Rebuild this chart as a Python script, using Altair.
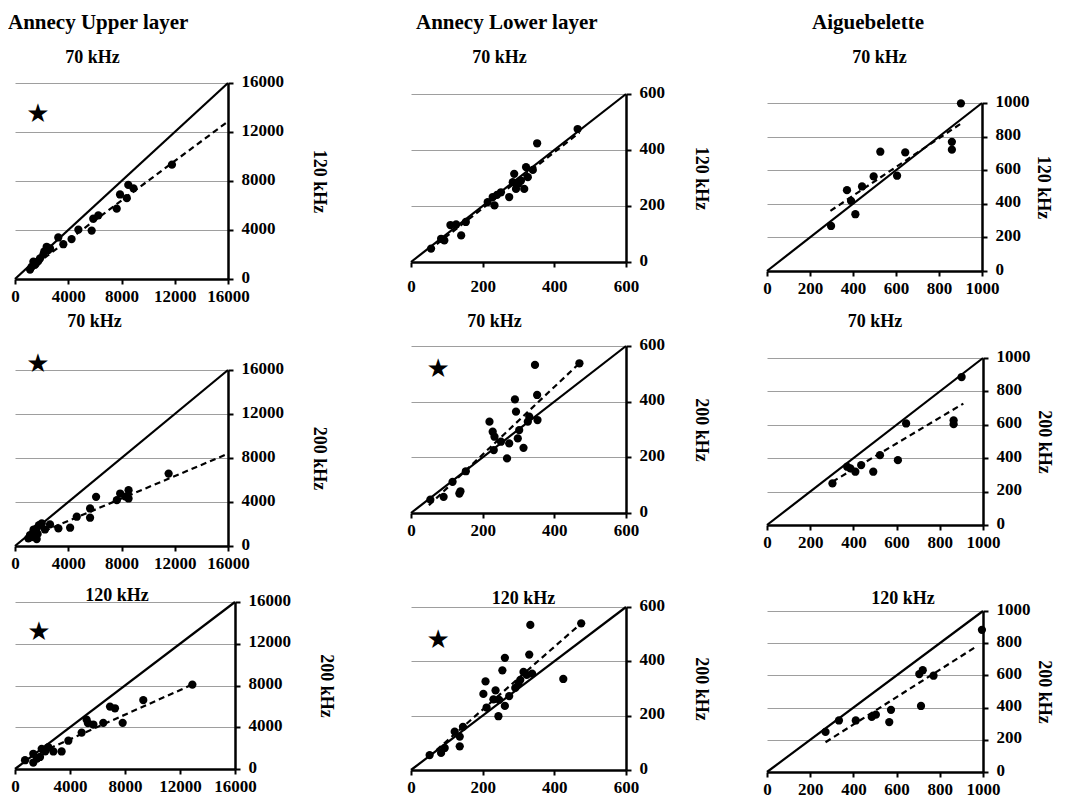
import altair as alt
import pandas as pd

FONT = "Liberation Serif"

# ---------------- Annecy Upper layer ----------------
up_70_120_x = [11790, 8510, 8900, 7890, 8400, 7640, 6260, 5880, 5760, 4760, 4250, 3250, 3630,
               2630, 2500, 2380, 2130, 2200, 1880, 1750, 1600, 1380, 1130, 1250, 1500]
up_70_120_y = [9330, 7680, 7400, 6900, 6600, 5740, 5200, 4920, 3950, 4030, 3260, 3390, 2840,
               2500, 2370, 2630, 2010, 2250, 1680, 1460, 1300, 1410, 770, 1000, 1150]
up_70_120_trend_x = [1000, 16000]
up_70_120_trend_y = [750, 12860]

up_70_200_x = [11540, 8530, 7900, 8300, 7650, 8530, 6090, 5640, 5640, 4640, 4140, 3260,
               2630, 2010, 1630, 1380, 1130, 1630, 1000, 1250, 2250, 1800, 1400, 1700]
up_70_200_y = [6580, 5070, 4770, 4500, 4170, 4320, 4470, 3410, 2570, 2660, 1660, 1600,
               1960, 2050, 1600, 1300, 1000, 630, 700, 800, 1500, 1900, 1500, 1100]
up_70_200_trend_x = [800, 16000]
up_70_200_trend_y = [650, 8390]

up_120_200_x = [12900, 9330, 7270, 6910, 7830, 6420, 5700, 5210, 5300, 4850, 3880, 3390,
                2790, 2420, 1940, 1820, 1330, 730, 1330, 2200, 1600]
up_120_200_y = [8090, 6600, 5820, 5980, 4420, 4420, 4260, 4730, 4400, 3490, 2710, 1680,
                1680, 2090, 1930, 1150, 1460, 840, 620, 1700, 1000]
up_120_200_trend_x = [500, 12900]
up_120_200_trend_y = [790, 8090]

# ---------------- Annecy Lower layer ----------------
lo_70_120_x = [465, 352, 340, 321, 326, 288, 307, 293, 316, 274, 284, 251, 228, 233, 214,
               126, 153, 140, 84, 93, 56, 240, 300, 110]
lo_70_120_y = [475, 424, 329, 339, 303, 315, 291, 261, 261, 232, 285, 249, 232, 202, 214,
               134, 143, 95, 83, 77, 48, 240, 280, 132]
lo_70_120_trend_x = [50, 470]
lo_70_120_trend_y = [42, 462]

lo_70_200_x = [470, 346, 352, 290, 293, 330, 353, 326, 219, 228, 233, 302, 298, 251, 274,
               314, 231, 268, 153, 116, 138, 135, 91, 54]
lo_70_200_y = [538, 532, 424, 408, 364, 346, 334, 328, 328, 292, 274, 298, 268, 256, 250,
               234, 226, 196, 150, 112, 78, 70, 58, 48]
lo_70_200_trend_x = [50, 470]
lo_70_200_trend_y = [28, 538]

lo_120_200_x = [475, 333, 330, 425, 262, 255, 208, 202, 236, 211, 230, 246, 262, 244, 274,
                291, 305, 314, 323, 338, 300, 145, 136, 136, 94, 84, 52, 122]
lo_120_200_y = [540, 534, 425, 335, 413, 367, 326, 280, 293, 230, 260, 258, 236, 198, 272,
                302, 332, 361, 350, 355, 320, 159, 123, 87, 81, 63, 55, 141]
lo_120_200_trend_x = [50, 475]
lo_120_200_trend_y = [49, 540]

# ---------------- Aiguebelette ----------------
ai_70_120_x = [902, 860, 860, 643, 527, 605, 496, 442, 372, 391, 411, 298]
ai_70_120_y = [998, 769, 722, 706, 710, 567, 563, 503, 481, 417, 338, 268]
ai_70_120_trend_x = [295, 899]
ai_70_120_trend_y = [358, 875]

ai_70_200_x = [901, 864, 864, 644, 606, 523, 492, 436, 409, 386, 371, 303]
ai_70_200_y = [886, 627, 604, 608, 388, 418, 319, 359, 319, 339, 349, 249]
ai_70_200_trend_x = [303, 909]
ai_70_200_trend_y = [259, 727]

ai_120_200_x = [995, 771, 721, 705, 713, 574, 566, 504, 485, 411, 333, 271]
ai_120_200_y = [883, 598, 632, 608, 410, 386, 310, 356, 342, 320, 320, 249]
ai_120_200_trend_x = [271, 969]
ai_120_200_trend_y = [185, 779]

# axis ticks
up_ticks = [0, 4000, 8000, 12000, 16000]
lo_ticks = [0, 200, 400, 600]
ai_ticks = [0, 200, 400, 600, 800, 1000]

headers = ["Annecy Upper layer", "Annecy Lower layer", "Aiguebelette"]
star_up = [(1730, 13500), (1730, 16570), (1730, 13100)]
star_lo = [None, (76, 518), (76, 480)]


def panel(x, y, tx, ty, ticks, top, ylab, star, w, h, tdx, toff, ytpad, xlpad):
    vmax = ticks[-1]
    xs = alt.Scale(domain=[0, vmax], nice=False, zero=True)
    ys = alt.Scale(domain=[0, vmax], nice=False, zero=True)
    xax = alt.Axis(values=ticks, format="d", grid=False, labelFlush=False,
                   labelOverlap=False, labelPadding=xlpad)
    yax = alt.Axis(values=ticks, format="d", orient="right", grid=True, labelFlush=False,
                   labelOverlap=False, titlePadding=ytpad, labelOffset=-2)
    enc = dict(x=alt.X("x:Q", scale=xs, axis=xax, title=None),
               y=alt.Y("y:Q", scale=ys, axis=yax, title=ylab))
    ident = alt.Chart(pd.DataFrame({"x": [0, vmax], "y": [0, vmax]})).mark_line(
        color="black", strokeWidth=2.2).encode(**enc)
    trend = alt.Chart(pd.DataFrame({"x": tx, "y": ty})).mark_line(
        color="black", strokeWidth=2.2, strokeDash=[6, 4]).encode(**enc)
    pts = alt.Chart(pd.DataFrame({"x": x, "y": y})).mark_circle(
        size=68, color="black", opacity=1).encode(**enc)
    layers = [ident, trend, pts]
    if star is not None:
        st = alt.Chart(pd.DataFrame({"x": [star[0]], "y": [star[1]], "t": ["★"]})).mark_text(
            font="DejaVu Sans", fontSize=26, color="black", align="center",
            baseline="middle").encode(x=enc["x"], y=enc["y"], text="t:N")
        layers.append(st)
    return alt.layer(*layers).properties(
        width=w, height=h,
        title=alt.TitleParams(text=top, anchor="middle", frame="group", dx=tdx, offset=toff,
                              baseline="bottom", font=FONT, fontSize=18, fontWeight="bold",
                              color="black"))


def header_chart(text, dx):
    return alt.Chart(pd.DataFrame({"t": [text]})).mark_text(
        align="left", baseline="middle", font=FONT, fontSize=21, fontWeight="bold",
        color="black").encode(text="t:N", x=alt.value(dx), y=alt.value(13)).properties(
        width=10, height=26)


c1 = [
    panel(up_70_120_x, up_70_120_y, up_70_120_trend_x, up_70_120_trend_y, up_ticks,
          "70 kHz", "120 kHz", star_up[0], 213, 196, -29, -13, 26, 4),
    panel(up_70_200_x, up_70_200_y, up_70_200_trend_x, up_70_200_trend_y, up_ticks,
          "70 kHz", "200 kHz", star_up[1], 213, 176, -27, 2, 26, 4),
    panel(up_120_200_x, up_120_200_y, up_120_200_trend_x, up_120_200_trend_y, up_ticks,
          "120 kHz", "200 kHz", star_up[2], 220, 167, -8, -32, 26, 4),
]
c2 = [
    panel(lo_70_120_x, lo_70_120_y, lo_70_120_trend_x, lo_70_120_trend_y, lo_ticks,
          "70 kHz", "120 kHz", star_lo[0], 215, 168, -19, -2, 27, 11),
    panel(lo_70_200_x, lo_70_200_y, lo_70_200_trend_x, lo_70_200_trend_y, lo_ticks,
          "70 kHz", "200 kHz", star_lo[1], 215, 167, -24, -14, 27, 4),
    panel(lo_120_200_x, lo_120_200_y, lo_120_200_trend_x, lo_120_200_trend_y, lo_ticks,
          "120 kHz", "200 kHz", star_lo[2], 215, 163, 5, -30, 27, 4),
]
c3 = [
    panel(ai_70_120_x, ai_70_120_y, ai_70_120_trend_x, ai_70_120_trend_y, ai_ticks,
          "70 kHz", "120 kHz", None, 215, 168, 5, 7, 4, 4),
    panel(ai_70_200_x, ai_70_200_y, ai_70_200_trend_x, ai_70_200_trend_y, ai_ticks,
          "70 kHz", "200 kHz", None, 216, 167, 0, -2, 4, 4),
    panel(ai_120_200_x, ai_120_200_y, ai_120_200_trend_x, ai_120_200_trend_y, ai_ticks,
          "120 kHz", "200 kHz", None, 216, 161, 28, -26, 4, 4),
]


def column(head, dx, panels, s0, s1, s2):
    top = alt.vconcat(header_chart(head, dx), panels[0], spacing=s0)
    mid = alt.vconcat(top, panels[1], spacing=s1)
    return alt.vconcat(mid, panels[2], spacing=s2)


col1 = column(headers[0], -7, c1, 13, 8, 16)
col2 = column(headers[1], 5, c2, 13, 19, 52)
col3 = column(headers[2], 45, c3, 13, 17, 40)

chart = alt.hconcat(alt.hconcat(col1, col2, spacing=71), col3, spacing=52).properties(
    padding={"left": 0, "top": 2, "right": 3, "bottom": 0}
).configure(background="white").configure_view(stroke=None).configure_axis(
    domainColor="black", domainWidth=2.5, tickColor="black", tickWidth=2, tickSize=5,
    labelFont=FONT, labelFontSize=17, labelFontWeight="bold", labelColor="black",
    titleFont=FONT, titleFontSize=18, titleFontWeight="bold", titleColor="black",
    gridColor="#9e9e9e", gridWidth=1
).configure_axisY(labelPadding=8)

chart.save("out.html", embed_options={"renderer": "svg", "actions": False})
